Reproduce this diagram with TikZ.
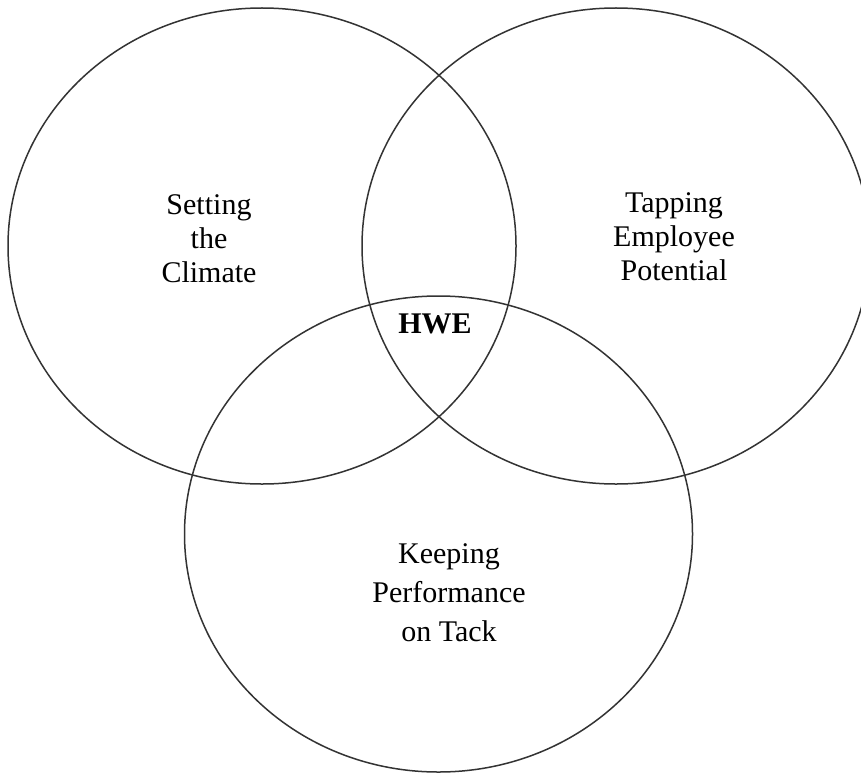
\documentclass[tikz,border=0pt]{standalone}
\usepackage{fontspec}
\setmainfont{Liberation Serif}
\usetikzlibrary{shapes.geometric}
\begin{document}
\begin{tikzpicture}[x=1pt,y=-1pt,
  ring/.style={draw=black!80, line width=1.5pt, ellipse, inner sep=0pt,
    minimum width=508pt, minimum height=476pt},
  lbl/.style={align=center, font=\fontsize{30}{34}\selectfont, inner sep=0pt, anchor=base}]
\useasboundingbox (0,0) rectangle (861,773);
\clip (0,0) rectangle (861,773);
\fill[white] (0,0) rectangle (861,773);
\node[ring] (climate) at (262,246) {};
\node[ring] (potential) at (616,246) {};
\node[ring] (performance) at (438.5,534) {};
\node[lbl] (t1) at (209,282) {Setting\\the\\Climate};
\node[lbl] (t2) at (674,280) {Tapping\\Employee\\Potential};
\node[lbl, font=\fontsize{30}{39}\selectfont] (t3) at (449,641) {Keeping\\Performance\\on Tack};
\node[lbl, font=\fontsize{30}{34}\selectfont\bfseries] (hwe) at (435,333) {HWE};
\end{tikzpicture}
\end{document}
